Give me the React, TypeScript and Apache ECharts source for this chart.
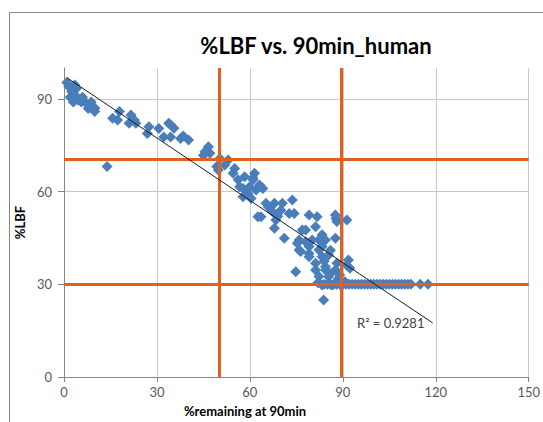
import React, { useEffect, useRef } from "react";
import * as echarts from "echarts";

const pointsX: number[] = [
  0.9, 3.5, 4, 2.5, 3, 4.6, 5.6, 3.5, 7.2, 8.3, 8.8, 9.9, 7.8, 15.7, 17.9, 17.3, 21.6, 22.7, 21, 23.2,
  27.4, 26.9, 30.6, 33.8, 32.2, 34.4, 13.9, 1.5, 6, 2, 9, 10,
  34.4, 37.6, 40.2, 35.5, 46.6, 45.5, 47.1, 45, 50.3, 53, 49.3, 49.8, 51.9, 55.1, 54.6, 58.3, 56.2, 56.7,
  57.8, 61.5, 61, 59.4, 60.4, 62.6, 38.5,
  63.1, 64.2, 59.9, 57.8, 65.2, 67.9, 70.5, 73.7, 70, 67.3, 72.7, 74.3, 63.6, 68.4, 67.9, 71.1, 76.9, 81.2,
  75.9, 78, 75.9, 82.3, 83.3, 79.1, 83.3, 74.8, 81.2, 84.4, 61, 62, 66, 69,
  79.1, 81.7, 87.6, 88.1, 91.3, 78, 83.3, 80.1, 84.4, 87.6, 75.3, 76.4, 79.1, 82.3, 79.1, 85.4, 91.8, 92.3,
  81.2, 84.4, 87.6, 82.3, 85.4, 88.6, 83.3, 86.5, 83.8, 90.7, 88.1, 91.3, 87.8, 86, 84, 86, 89, 82,
  84, 85, 86, 87, 88, 89, 90, 91, 92, 93, 94, 95, 96, 97, 98, 99, 100, 101, 102, 103, 104, 105, 106, 107,
  108, 109, 110, 111, 112, 115, 117.5,
];
const pointsY: number[] = [
  95.3, 94.5, 93.4, 92.3, 89, 89.6, 89, 91.3, 88.6, 88, 89, 85.9, 86.9, 83.7, 85.9, 83.2, 84.8, 83.2, 82.1, 82.1,
  81, 78.8, 80.4, 82.1, 77.7, 77.7, 68.1, 94, 90.5, 90.5, 87.5, 87,
  81.6, 77.2, 76.7, 80.5, 74.5, 72.9, 72.4, 71.8, 70.7, 70.2, 68.1, 67, 68.6, 67.5, 65.9, 64.8, 63.8, 61.6,
  61, 65.9, 63.8, 59.4, 57.8, 51.9, 78,
  62.1, 61, 61.6, 58.3, 56.2, 56.2, 56.2, 57.3, 54, 53.5, 52.9, 52.9, 51.9, 50.8, 48.1, 44.9, 47.6, 48.6,
  44.3, 43.8, 41.1, 44.3, 42.2, 40, 38.9, 34.1, 36.8, 34.6, 64.5, 60.5, 55, 52,
  52.4, 51.9, 52.4, 50.3, 50.8, 47.6, 46, 44.3, 44.3, 44.9, 43.3, 40.6, 42.2, 41.1, 38.9, 39.5, 37.9, 35.2,
  34.6, 35.7, 34.6, 32.5, 32.5, 31.9, 29.8, 29.8, 24.9, 30.8, 36.8, 36.2, 51.3, 41, 37.5, 33.5, 33, 30.5,
  30, 30, 30, 30, 30, 30, 30, 30, 30, 30, 30, 30, 30, 30, 30, 30, 30, 30, 30, 30, 30, 30, 30, 30,
  30, 30, 30, 30, 30, 30, 30,
];

const trendX: number[] = [0.9, 119];
const trendY: number[] = [96.9, 17.5];

const xThresholds: number[] = [50, 89.5];
const yThresholds: number[] = [30, 70.5];

const xTickLabels: number[] = [0, 30, 60, 90, 120, 150];
const yTickLabels: number[] = [0, 30, 60, 90];

const FONT = "Lato, 'Open Sans', sans-serif";
const ORANGE = "#E2601E";

export default function App() {
  const ref = useRef<HTMLDivElement>(null);
  useEffect(() => {
    if (!ref.current) return;
    const chart = echarts.init(ref.current, null, { renderer: "svg" });
    const scatterData = pointsX.map((x, i) => [x, pointsY[i]]);
    const trendData = trendX.map((x, i) => [x, trendY[i]]);
    chart.setOption({
      animation: false,
      backgroundColor: "#ffffff",
      grid: { left: 64, top: 68, width: 470, height: 309, containLabel: false },
      xAxis: {
        type: "value",
        min: 0,
        max: 150,
        interval: 10,
        axisLine: { show: true, lineStyle: { color: "#868686", width: 1 } },
        axisTick: { show: true, customValues: xTickLabels, length: 5, lineStyle: { color: "#868686" } },
        axisLabel: {
          customValues: xTickLabels,
          color: "#595959",
          fontSize: 13,
          fontFamily: FONT,
          margin: 8,
        },
        splitLine: { show: true, lineStyle: { color: "#C8C8C8", width: 1 } },
      },
      yAxis: {
        type: "value",
        min: 0,
        max: 100,
        interval: 10,
        name: "%LBF",
        nameLocation: "middle",
        nameGap: 36,
        nameRotate: 90,
        nameTextStyle: { fontWeight: "bold", fontSize: 13, color: "#000", fontFamily: FONT },
        axisLine: { show: true, lineStyle: { color: "#868686", width: 1 } },
        axisTick: { show: true, customValues: yTickLabels, length: 6, lineStyle: { color: "#868686" } },
        axisLabel: {
          customValues: yTickLabels,
          color: "#595959",
          fontSize: 13,
          fontFamily: FONT,
          margin: 12,
        },
        splitLine: { show: true, lineStyle: { color: "#C8C8C8", width: 1 } },
      },
      graphic: [
        {
          type: "rect",
          shape: { x: 9.5, y: 12.5, width: 620, height: 520 },
          style: { fill: "none", stroke: "#868686", lineWidth: 1 },
          silent: true,
          z: 0,
        },
        {
          type: "text",
          x: 316,
          y: 45,
          style: {
            text: "%LBF vs. 90min_human",
            font: `bold 22px ${FONT}`,
            fill: "#000",
            align: "center",
            verticalAlign: "middle",
          },
        },
        {
          type: "text",
          x: 245,
          y: 411,
          style: {
            text: "%remaining at 90min",
            font: `bold 13px ${FONT}`,
            fill: "#000",
            align: "center",
            verticalAlign: "middle",
          },
        },
        {
          type: "text",
          x: 357,
          y: 323,
          z: 10,
          style: {
            text: "R² = 0.9281",
            font: `13px ${FONT}`,
            fill: "#404040",
            align: "left",
            verticalAlign: "middle",
          },
        },
      ],
      series: [
        {
          type: "scatter",
          data: scatterData,
          symbol: "diamond",
          symbolSize: 11,
          itemStyle: { color: "#4A7EBB", opacity: 1 },
          z: 3,
          markLine: {
            silent: true,
            symbol: "none",
            label: { show: false },
            lineStyle: { color: ORANGE, width: 3, type: "solid" },
            data: [
              ...xThresholds.map((v) => ({ xAxis: v })),
              ...yThresholds.map((v) => ({ yAxis: v })),
            ],
          },
        },
        {
          type: "line",
          data: trendData,
          symbol: "none",
          lineStyle: { color: "#1a1a1a", width: 1 },
          z: 5,
        },
      ],
    });
    return () => chart.dispose();
  }, []);
  return (
    <div
      ref={ref}
      style={{ position: "fixed", left: 0, top: 0, width: 543, height: 422 }}
    />
  );
}
